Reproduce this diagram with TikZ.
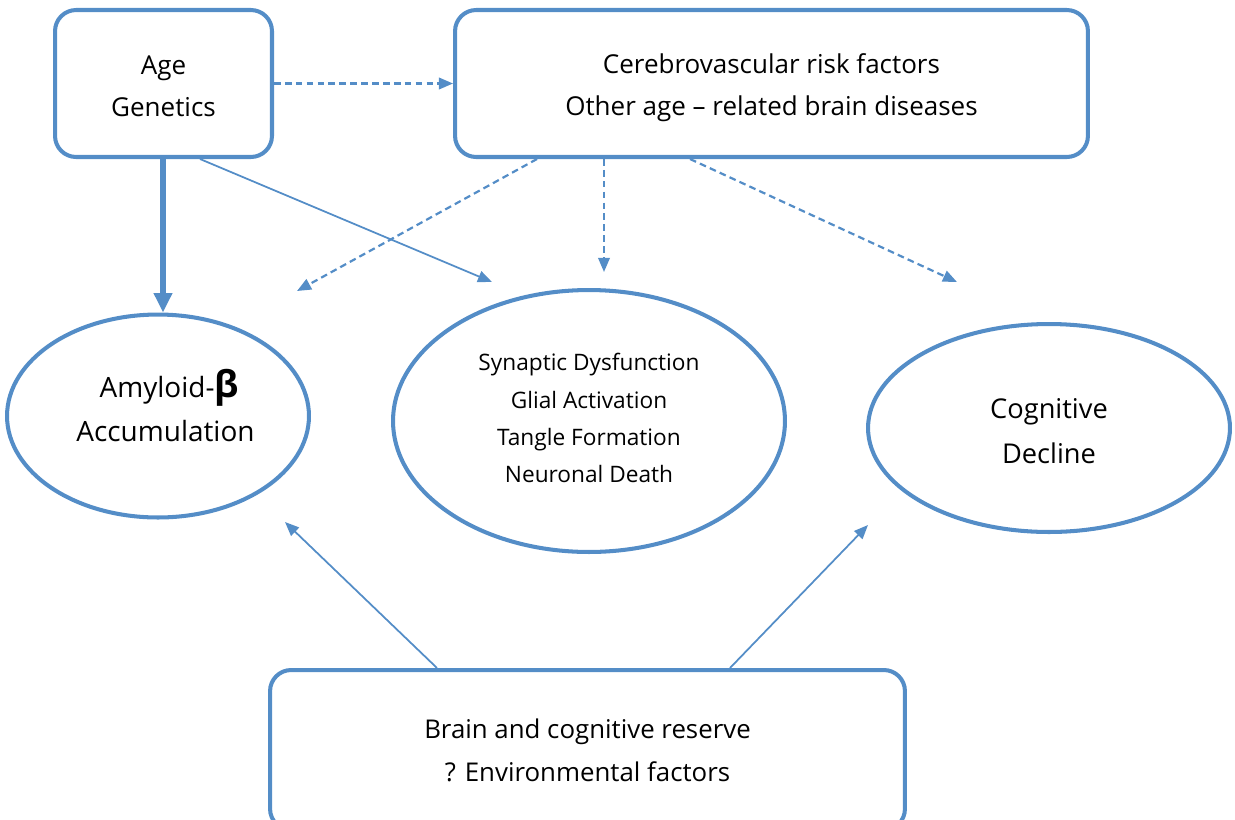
\documentclass[tikz,border=0pt]{standalone}
\usepackage{fontspec}
\setmainfont{Open Sans}
\usetikzlibrary{shapes.geometric,arrows.meta}
\definecolor{lineblue}{RGB}{84, 141, 199}

\begin{document}
\begin{tikzpicture}[x=0.02cm, y=-0.02cm,
        roundbox/.style={rectangle, draw=lineblue, line width=2.3pt, rounded corners=12pt,
                align=center, inner sep=0pt, font=\fontsize{14.8}{24.4}\selectfont},
        oval/.style={ellipse, draw=lineblue, line width=2.3pt, align=center, inner sep=0pt},
        dasharrow/.style={draw=lineblue, line width=1.25pt, dash pattern=on 3.8pt off 2.4pt,
                -{Triangle[length=8pt, width=6.5pt, fill=lineblue]}},
        thinarrow/.style={draw=lineblue, line width=1pt,
                -{Triangle[length=8pt, width=6.5pt, fill=lineblue]}}]

        % the page is the size of the reference picture (in pixels)
        \useasboundingbox (0,0) rectangle (1235,819);

        % top row of boxes (the rules only move the text down a little)
        \node[roundbox, minimum width=4.34cm, minimum height=2.94cm] (age) at (163.5,83.5)
                {\rule{0pt}{13.8pt}Age\\Genetics};
        \node[roundbox, minimum width=12.66cm, minimum height=2.94cm] (risk) at (771.5,83.5)
                {\rule{0pt}{16pt}Cerebrovascular risk factors\\Other age -- related brain diseases};

        % the three ellipses
        \node[oval, minimum width=6.04cm, minimum height=4.06cm,
                font=\fontsize{15.9}{25.5}\selectfont] (amyloid) at (158,416)
                {\hspace*{0.45cm}Amyloid-{\fontsize{21}{21}\selectfont\bfseries β}\\
                 \hspace*{0.3cm}Accumulation\rule[-12pt]{0pt}{0pt}};
        \node[oval, minimum width=7.84cm, minimum height=5.24cm,
                font=\fontsize{12.9}{21.2}\selectfont] (damage) at (589,421)
                {Synaptic Dysfunction\\Glial Activation\\Tangle Formation\\Neuronal Death\rule[-3.4pt]{0pt}{0pt}};
        \node[oval, minimum width=7.24cm, minimum height=4.16cm,
                font=\fontsize{15.5}{25.5}\selectfont] (decline) at (1049,428)
                {\rule{0pt}{15.3pt}Cognitive\\Decline};

        % bottom box, its lower edge runs off the page
        \node[roundbox, minimum width=12.7cm, minimum height=3.2cm,
                font=\fontsize{14.7}{24.4}\selectfont] (reserve) at (587.5,750)
                {Brain and cognitive reserve\\? Environmental factors};

        % free ends of the arrows
        \coordinate (tipcross) at (492,282);
        \coordinate (tipleft) at (297,291);
        \coordinate (tipmid) at (604,272);
        \coordinate (tipright) at (957,282);
        \coordinate (tipup1) at (285,522);
        \coordinate (tipup2) at (868,525);

        % arrows from the age box
        \draw[draw=lineblue, line width=3.4pt, -{Triangle[length=11pt, width=10pt, fill=lineblue]}]
                (age.south -| 163,0) -- (amyloid.north -| 163,0);
        \draw[thinarrow] (age.south -| 200,0) -- (tipcross);
        \draw[dasharrow] (age.east) -- (risk.west);

        % dashed arrows from the risk box
        \foreach \start / \tip in {537/tipleft, 604/tipmid, 690/tipright} {
            \draw[dasharrow] (risk.south -| \start,0) -- (\tip);
        }

        % arrows up from the reserve box
        \draw[thinarrow] (reserve.north -| 437,0) -- (tipup1);
        \draw[thinarrow] (reserve.north -| 730,0) -- (tipup2);
    \end{tikzpicture}
\end{document}
